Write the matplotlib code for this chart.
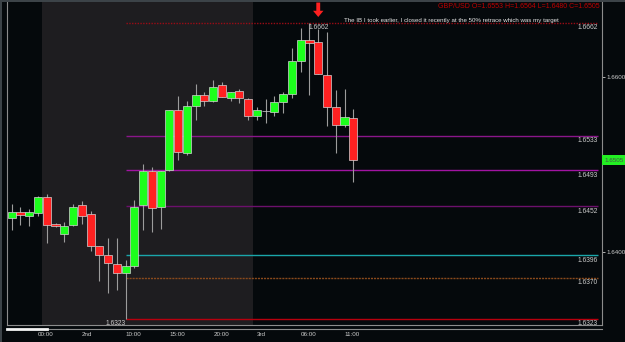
import numpy as np
import matplotlib.pyplot as plt
from matplotlib.lines import Line2D
from matplotlib.patches import Rectangle

plt.rcParams['font.family'] = ['Liberation Sans', 'DejaVu Sans']

# hourly GBP/USD candles
opens = [1.6439, 1.6445, 1.6441, 1.6444, 1.6463, 1.6432, 1.6420, 1.6430, 1.6453, 1.6443,
         1.6406, 1.6396, 1.6386, 1.6376, 1.6383, 1.6453, 1.6492, 1.6451, 1.6494, 1.6562,
         1.6513, 1.6567, 1.6580, 1.6573, 1.6591, 1.6576, 1.6584, 1.6575, 1.6555, 1.6561,
         1.6560, 1.6572, 1.6581, 1.6619, 1.6642, 1.6640, 1.6603, 1.6566, 1.6545, 1.6553]
highs = [1.6455, 1.6451, 1.6449, 1.6464, 1.6466, 1.6433, 1.6434, 1.6455, 1.6458, 1.6446,
         1.6406, 1.6416, 1.6416, 1.6390, 1.6459, 1.6500, 1.6497, 1.6492, 1.6562, 1.6578,
         1.6573, 1.6592, 1.6583, 1.6597, 1.6594, 1.6583, 1.6586, 1.6576, 1.6566, 1.6575,
         1.6578, 1.6583, 1.6633, 1.6656, 1.6662, 1.6655, 1.6652, 1.6585, 1.6586, 1.6564]
lows = [1.6425, 1.6431, 1.6429, 1.6441, 1.6410, 1.6428, 1.6411, 1.6429, 1.6432, 1.6401,
        1.6366, 1.6353, 1.6356, 1.6323, 1.6381, 1.6425, 1.6422, 1.6426, 1.6492, 1.6505,
        1.6511, 1.6551, 1.6567, 1.6571, 1.6577, 1.6573, 1.6570, 1.6551, 1.6551, 1.6547,
        1.6556, 1.6559, 1.6576, 1.6606, 1.6580, 1.6604, 1.6544, 1.6513, 1.6543, 1.6480]
closes = [1.6445, 1.6442, 1.6445, 1.6463, 1.6431, 1.6429, 1.6429, 1.6451, 1.6441, 1.6406,
          1.6396, 1.6387, 1.6376, 1.6384, 1.6451, 1.6492, 1.6450, 1.6492, 1.6562, 1.6514,
          1.6567, 1.6580, 1.6573, 1.6589, 1.6577, 1.6583, 1.6576, 1.6555, 1.6562, 1.6561,
          1.6571, 1.6581, 1.6619, 1.6642, 1.6639, 1.6604, 1.6566, 1.6545, 1.6554, 1.6505]

tick_pos = [3, 8, 13, 18, 23, 28, 33, 38]
tick_labels = ['00:00', '2nd', '10:00', '15:00', '20:00', '3rd', '06:00', '11:00']

levels = [1.6662, 1.6533, 1.6493, 1.6452, 1.6396, 1.6370, 1.6323]
level_colors = ['#9a0c16', '#8a168a', '#a214a2', '#6c106c', '#1aa6aa', '#8a4a1c', '#b8000e']
level_styles = [(0, (1, 1)), '-', '-', '-', '-', (0, (1.5, 0.7)), '-']

last_price = 1.6505
title = 'GBP/USD O=1.6553 H=1.6564 L=1.6480 C=1.6505'
note = 'The IB I took earlier, I closed it recently at the 50% retrace which was my target'

BG = '#05090c'
SESSION = '#1e1d20'
UP = '#1cff1c'
DOWN = '#ff2121'
TXT = '#cccccc'

W, H = 625, 342
fig = plt.figure(figsize=(W / 100, H / 100), dpi=100, facecolor=BG)
ax = fig.add_axes([7 / W, 1 - 325 / H, 595 / W, 323 / H], facecolor=BG)

x = np.arange(len(opens))
o = np.array(opens)
c = np.array(closes)

ax.axvspan(3.5, 27.5, color=SESSION, zorder=0, lw=0)

# support / resistance levels from the low candle to the right edge
for p, col, ls in zip(levels, level_colors, level_styles):
    ax.hlines(p, 13, 66.9, color=col, lw=1.0, linestyles=[ls], zorder=1)
    ax.annotate('%.4f' % p, (66.9, p), xytext=(0, -1), textcoords='offset points',
                ha='right', va='top', fontsize=4.8, color=TXT)

ax.annotate('1.6662', (33.9, 1.6662), xytext=(0, -1), textcoords='offset points',
            ha='left', va='top', fontsize=4.8, color=TXT)
ax.annotate('1.6323', (13, 1.6323), xytext=(0, -1), textcoords='offset points',
            ha='right', va='top', fontsize=4.8, color=TXT)

# candles
ax.vlines(x, lows, highs, color='#9c9c9c', lw=0.8, zorder=2)
cols = [UP if cc > oo else (DOWN if cc < oo else '#9c9c9c') for oo, cc in zip(o, c)]
ax.bar(x, np.abs(c - o), bottom=np.minimum(o, c), width=0.92, color=cols,
       edgecolor='#d4d4d4', lw=0.5, zorder=3)

ax.set_xlim(-0.54, 67.4)
ax.set_ylim(1.63159, 1.66861)

# arrow over the top
ax.annotate('', xy=(35, 1.66689), xytext=(35, 1.66855),
            arrowprops=dict(width=2.8, headwidth=7.5, headlength=4.5, color='#ff2020', lw=0),
            annotation_clip=False)

ax.text(37.95, 1.66654, note, fontsize=4.4, color='#e6e6e6', ha='left', va='center')
fig.text(600 / W, 1 - 7 / H, title, fontsize=5, color='#c00000', ha='right', va='center')

# axes
ax.yaxis.tick_right()
ax.set_yticks([1.64, 1.66])
ax.set_yticklabels(['1.6400', '1.6600'])
ax.tick_params(axis='y', colors=TXT, labelsize=4.5, length=2, pad=1.5, width=0.6)
ax.set_xticks(tick_pos)
ax.set_xticklabels(tick_labels, ha='left')
ax.tick_params(axis='x', colors=TXT, labelsize=4.5, length=0, pad=5)
for s in ['left', 'bottom', 'right']:
    ax.spines[s].set_color('#8c8c8c')
    ax.spines[s].set_linewidth(0.8)
ax.spines['top'].set_visible(False)

ax.text(1.004, last_price, '%.4f' % last_price, transform=ax.get_yaxis_transform(),
        fontsize=4.5, color='#4a4a4a', ha='left', va='center',
        bbox=dict(boxstyle='square,pad=0.35', fc='#22f022', ec='none'))

# window chrome: top strip, left strip, time scroller
fig.add_artist(Rectangle((0, 1 - 2 / H), 1, 2 / H, transform=fig.transFigure,
                         color='#3c4348', lw=0))
fig.add_artist(Rectangle((0, 0), 2 / W, 1, transform=fig.transFigure,
                         color='#3c4348', lw=0))
fig.add_artist(Line2D([7 / W, 602 / W], [1 - 329 / H] * 2, color='#8c8c8c', lw=0.8))
fig.add_artist(Line2D([7 / W, 47 / W], [1 - 329 / H] * 2, color='#f4f4f4', lw=2.0))

fig.savefig('out.png', dpi=100, facecolor=BG)
